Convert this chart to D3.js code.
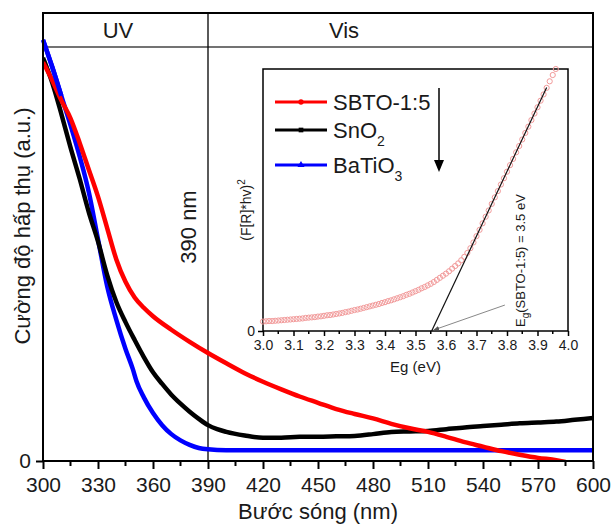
<!DOCTYPE html>
<html>
<head>
<meta charset="utf-8">
<script src="https://cdn.jsdelivr.net/npm/d3@7"></script>
<style>
body { margin: 0; background: #fff; }
svg text { font-family: "Liberation Sans", Arial, sans-serif; fill: #1a1a1a; }
</style>
</head>
<body>
<div id="chart"></div>
<script>
// Absorption spectra, wavelength (nm) vs intensity (a.u., 0..1 of frame height)
const sbtoNm  = [300, 305, 310, 315, 320, 325, 330, 335, 340, 345, 350, 355, 360, 370, 380, 390, 400, 410, 420, 430, 440, 450, 460, 470, 480, 490, 500, 510, 520, 530, 540, 550, 560, 570, 580, 585];
const sbtoAbs = [0.89, 0.85, 0.805, 0.765, 0.71, 0.65, 0.59, 0.52, 0.45, 0.40, 0.365, 0.342, 0.323, 0.293, 0.266, 0.241, 0.218, 0.196, 0.177, 0.160, 0.144, 0.130, 0.116, 0.105, 0.095, 0.083, 0.073, 0.065, 0.054, 0.042, 0.032, 0.022, 0.014, 0.007, 0.002, -0.002];

const sno2Nm  = [300, 305, 310, 315, 320, 325, 330, 335, 340, 345, 350, 355, 360, 365, 370, 375, 380, 385, 390, 395, 400, 410, 420, 430, 440, 450, 460, 470, 480, 490, 500, 510, 520, 530, 540, 550, 560, 570, 580, 590, 600];
const sno2Abs = [0.90, 0.845, 0.775, 0.70, 0.63, 0.555, 0.49, 0.415, 0.355, 0.31, 0.27, 0.232, 0.198, 0.172, 0.148, 0.128, 0.11, 0.094, 0.080, 0.071, 0.065, 0.057, 0.052, 0.052, 0.054, 0.054, 0.055, 0.056, 0.060, 0.065, 0.066, 0.067, 0.071, 0.075, 0.078, 0.081, 0.084, 0.086, 0.088, 0.092, 0.096];

const btoNm  = [300, 305, 310, 315, 320, 325, 330, 335, 340, 345, 349, 351, 355, 360, 365, 370, 375, 380, 385, 390, 400, 450, 500, 550, 600];
const btoAbs = [0.94, 0.88, 0.815, 0.75, 0.68, 0.60, 0.495, 0.39, 0.315, 0.25, 0.205, 0.178, 0.142, 0.107, 0.08, 0.06, 0.046, 0.036, 0.029, 0.026, 0.024, 0.024, 0.024, 0.024, 0.024];

const xTicks = [300, 330, 360, 390, 420, 450, 480, 510, 540, 570, 600];
const xMinor = [315, 345, 375, 405, 435, 465, 495, 525, 555, 585];

// Inset: Tauc plot (F[R]*hv)^2 vs Eg for SBTO-1:5
const insetEg = [3.00, 3.01, 3.02, 3.03, 3.04, 3.05, 3.06, 3.07, 3.08, 3.09,
  3.10, 3.11, 3.12, 3.13, 3.14, 3.15, 3.16, 3.17, 3.18, 3.19,
  3.20, 3.21, 3.22, 3.23, 3.24, 3.25, 3.26, 3.27, 3.28, 3.29,
  3.30, 3.31, 3.32, 3.33, 3.34, 3.35, 3.36, 3.37, 3.38, 3.39,
  3.40, 3.41, 3.42, 3.43, 3.44, 3.45, 3.46, 3.47, 3.48, 3.49,
  3.50, 3.51, 3.52, 3.53, 3.54, 3.55, 3.56, 3.57, 3.58, 3.59,
  3.60, 3.61, 3.62, 3.63, 3.64, 3.65, 3.66, 3.67, 3.68, 3.69,
  3.70, 3.71, 3.72, 3.73, 3.74, 3.75, 3.76, 3.77, 3.78, 3.79,
  3.80, 3.81, 3.82, 3.83, 3.84, 3.85, 3.86, 3.87, 3.88, 3.89,
  3.90, 3.91, 3.92, 3.93, 3.94, 3.95, 3.96];
const insetVal = [0.036, 0.037, 0.038, 0.038, 0.039, 0.040, 0.041, 0.042, 0.043, 0.044,
  0.045, 0.046, 0.047, 0.048, 0.050, 0.051, 0.052, 0.053, 0.055, 0.056,
  0.058, 0.060, 0.061, 0.063, 0.065, 0.067, 0.069, 0.072, 0.074, 0.077,
  0.080, 0.082, 0.085, 0.088, 0.091, 0.094, 0.097, 0.100, 0.103, 0.107,
  0.110, 0.114, 0.117, 0.121, 0.125, 0.129, 0.133, 0.138, 0.142, 0.147,
  0.152, 0.157, 0.163, 0.168, 0.174, 0.180, 0.187, 0.195, 0.203, 0.211,
  0.219, 0.228, 0.238, 0.248, 0.258, 0.270, 0.283, 0.298, 0.316, 0.338,
  0.362, 0.386, 0.411, 0.436, 0.460, 0.485, 0.510, 0.534, 0.559, 0.583,
  0.608, 0.633, 0.657, 0.682, 0.706, 0.731, 0.756, 0.780, 0.805, 0.830,
  0.854, 0.879, 0.903, 0.928, 0.953, 0.977, 1.00];
const tangentEg  = [3.553, 3.93];
const tangentVal = [0, 0.929];
const insetTicks = [3.0, 3.1, 3.2, 3.3, 3.4, 3.5, 3.6, 3.7, 3.8, 3.9, 4.0];
const insetMinor = [3.05, 3.15, 3.25, 3.35, 3.45, 3.55, 3.65, 3.75, 3.85, 3.95];

function zip(a, b) { return a.map((v, i) => [v, b[i]]); }

function renderChart() {
    const W = 614, H = 525;
    const plot = {left: 43, right: 593, top: 13, bottom: 461};

    const svg = d3.select("#chart").append("svg")
        .attr("width", W).attr("height", H);

    const x = d3.scaleLinear().domain([300, 600]).range([plot.left, plot.right]);
    const y = d3.scaleLinear().domain([0, 1]).range([plot.bottom, plot.top]);

    svg.append("defs").append("clipPath").attr("id", "clip")
        .append("rect")
        .attr("x", plot.left).attr("y", plot.top)
        .attr("width", plot.right - plot.left).attr("height", plot.bottom - plot.top);

    // UV / Vis band
    svg.append("line")
        .attr("x1", plot.left).attr("x2", plot.right)
        .attr("y1", 47).attr("y2", 47)
        .attr("stroke", "#444").attr("stroke-width", 1.5);
    svg.append("line")
        .attr("x1", x(390)).attr("x2", x(390))
        .attr("y1", plot.top).attr("y2", plot.bottom)
        .attr("stroke", "#000").attr("stroke-width", 1.3);
    svg.append("text").attr("x", 118).attr("y", 38)
        .attr("text-anchor", "middle").style("font-size", "22px").text("UV");
    svg.append("text").attr("x", 344).attr("y", 38)
        .attr("text-anchor", "middle").style("font-size", "22px").text("Vis");

    svg.append("text")
        .attr("transform", `translate(196,227) rotate(-90)`)
        .attr("text-anchor", "middle").style("font-size", "22px").text("390 nm");

    // curves
    const line = d3.line()
        .x(d => x(d[0]))
        .y(d => y(d[1]))
        .curve(d3.curveMonotoneX);

    const series = [
        {data: zip(btoNm, btoAbs), color: "#0000ff"},
        {data: zip(sno2Nm, sno2Abs), color: "#000000"},
        {data: zip(sbtoNm, sbtoAbs), color: "#ff0000"}
    ];
    const g = svg.append("g").attr("clip-path", "url(#clip)");
    series.forEach(s => {
        g.append("path")
            .datum(s.data)
            .attr("fill", "none")
            .attr("stroke", s.color)
            .attr("stroke-width", 4.5)
            .attr("stroke-linejoin", "round")
            .attr("d", line);
    });
    // blue starts above the band line, draw its first part unclipped
    svg.append("path")
        .datum(zip(btoNm.slice(0, 3), btoAbs.slice(0, 3)))
        .attr("fill", "none").attr("stroke", "#0000ff").attr("stroke-width", 4.5)
        .attr("d", line);

    // frame
    svg.append("rect")
        .attr("x", plot.left).attr("y", plot.top)
        .attr("width", plot.right - plot.left).attr("height", plot.bottom - plot.top)
        .attr("fill", "none").attr("stroke", "#000").attr("stroke-width", 2);

    // x axis
    const xAxis = svg.append("g")
        .attr("transform", `translate(0,${plot.bottom})`)
        .call(d3.axisBottom(x).tickValues(xTicks).tickSize(8).tickPadding(8).tickFormat(d3.format("d")));
    xAxis.select(".domain").remove();
    xAxis.selectAll("line").attr("stroke-width", 2);
    xAxis.selectAll("text").style("font-size", "21px").attr("fill", "#1a1a1a");
    svg.append("g")
        .attr("transform", `translate(0,${plot.bottom})`)
        .selectAll("line").data(xMinor).enter().append("line")
        .attr("x1", d => x(d)).attr("x2", d => x(d))
        .attr("y1", 0).attr("y2", 5)
        .attr("stroke", "#000").attr("stroke-width", 2);

    // y axis: only 0
    const yAxis = svg.append("g")
        .attr("transform", `translate(${plot.left},0)`)
        .call(d3.axisLeft(y).tickValues([0]).tickSize(7).tickPadding(5).tickFormat(d3.format("d")));
    yAxis.select(".domain").remove();
    yAxis.selectAll("line").attr("stroke-width", 2);
    yAxis.selectAll("text").style("font-size", "21px").attr("fill", "#1a1a1a");

    svg.append("text")
        .attr("x", 318).attr("y", 519)
        .attr("text-anchor", "middle").style("font-size", "22px")
        .text("Bước sóng (nm)");
    svg.append("text")
        .attr("transform", `translate(30,226) rotate(-90)`)
        .attr("text-anchor", "middle").style("font-size", "22px")
        .text("Cường độ hấp thụ (a.u.)");

    renderInset(svg);
    renderLegend(svg);
}

function renderInset(svg) {
    const box = {left: 263, right: 568, top: 69, bottom: 331};
    const ix = d3.scaleLinear().domain([3.0, 4.0]).range([box.left, box.right]);
    const iy = d3.scaleLinear().domain([0, 1]).range([box.bottom, box.top]);

    svg.append("rect")
        .attr("x", box.left).attr("y", box.top)
        .attr("width", box.right - box.left).attr("height", box.bottom - box.top)
        .attr("fill", "#fff").attr("stroke", "#000").attr("stroke-width", 1.5);

    // Tauc points
    svg.append("g").selectAll("circle")
        .data(zip(insetEg, insetVal))
        .enter().append("circle")
        .attr("cx", d => ix(d[0]))
        .attr("cy", d => iy(d[1]))
        .attr("r", 2.6)
        .attr("fill", "none")
        .attr("stroke", "#f29a9a")
        .attr("stroke-width", 1);

    // tangent line
    svg.append("line")
        .attr("x1", ix(tangentEg[0])).attr("y1", iy(tangentVal[0]))
        .attr("x2", ix(tangentEg[1])).attr("y2", iy(tangentVal[1]))
        .attr("stroke", "#111").attr("stroke-width", 1.2);

    // annotation arrow
    svg.append("defs").append("marker")
        .attr("id", "greyHead").attr("viewBox", "0 0 10 10")
        .attr("refX", 9).attr("refY", 5)
        .attr("markerWidth", 6).attr("markerHeight", 6)
        .attr("orient", "auto")
        .append("path").attr("d", "M0,1 L10,5 L0,9 z").attr("fill", "#555");
    svg.append("line")
        .attr("x1", ix(3.793)).attr("y1", iy(0.099))
        .attr("x2", ix(3.56)).attr("y2", iy(0.004))
        .attr("stroke", "#888").attr("stroke-width", 1)
        .attr("marker-end", "url(#greyHead)");

    const ann = svg.append("text")
        .attr("transform", `translate(525,327) rotate(-90)`)
        .style("font-size", "13px").attr("fill", "#333");
    ann.append("tspan").text("E");
    ann.append("tspan").attr("dy", 4).style("font-size", "10px").text("g");
    ann.append("tspan").attr("dy", -4).text("(SBTO-1:5) = 3.5 eV");

    // inset axes
    const ax = svg.append("g")
        .attr("transform", `translate(0,${box.bottom})`)
        .call(d3.axisBottom(ix).tickValues(insetTicks).tickSize(5).tickPadding(4).tickFormat(d3.format(".1f")));
    ax.select(".domain").remove();
    ax.selectAll("line").attr("stroke-width", 1.5);
    ax.selectAll("text").style("font-size", "14px").attr("fill", "#1a1a1a");
    svg.append("g")
        .attr("transform", `translate(0,${box.bottom})`)
        .selectAll("line").data(insetMinor).enter().append("line")
        .attr("x1", d => ix(d)).attr("x2", d => ix(d))
        .attr("y1", 0).attr("y2", 3)
        .attr("stroke", "#000").attr("stroke-width", 1.5);

    const ay = svg.append("g")
        .attr("transform", `translate(${box.left},0)`)
        .call(d3.axisLeft(iy).tickValues([0]).tickSize(5).tickPadding(3).tickFormat(d3.format("d")));
    ay.select(".domain").remove();
    ay.selectAll("line").attr("stroke-width", 1.5);
    ay.selectAll("text").style("font-size", "14px").attr("fill", "#1a1a1a");

    svg.append("text")
        .attr("x", (box.left + box.right) / 2).attr("y", 372)
        .attr("text-anchor", "middle").style("font-size", "15px")
        .text("Eg (eV)");

    const yl = svg.append("text")
        .attr("transform", `translate(251,210) rotate(-90)`)
        .attr("text-anchor", "middle").style("font-size", "14px");
    yl.append("tspan").text("(F[R]*hv)");
    yl.append("tspan").attr("dy", -6).style("font-size", "10px").text("2");
}

function renderLegend(svg) {
    const items = [
        {name: "SBTO-1:5", sub: "", color: "#ff0000", shape: d3.symbolCircle, y: 102},
        {name: "SnO", sub: "2", color: "#000000", shape: d3.symbolSquare, y: 130},
        {name: "BaTiO", sub: "3", color: "#0000ff", shape: d3.symbolTriangle, y: 165}
    ];
    const lg = svg.append("g");
    items.forEach(it => {
        lg.append("line")
            .attr("x1", 275).attr("x2", 327)
            .attr("y1", it.y).attr("y2", it.y)
            .attr("stroke", it.color).attr("stroke-width", 3);
        lg.append("path")
            .attr("transform", `translate(301,${it.y})`)
            .attr("d", d3.symbol().type(it.shape).size(22)())
            .attr("fill", it.color);
        const t = lg.append("text")
            .attr("x", 333).attr("y", it.y + 8)
            .style("font-size", "22px");
        t.append("tspan").text(it.name);
        if (it.sub) {
            t.append("tspan").attr("dy", 8).style("font-size", "14px").text(it.sub);
        }
    });

    // downward arrow
    lg.append("line")
        .attr("x1", 439).attr("x2", 439)
        .attr("y1", 88).attr("y2", 162)
        .attr("stroke", "#000").attr("stroke-width", 1.5);
    lg.append("path")
        .attr("d", "M434,160 L444,160 L439,172 Z")
        .attr("fill", "#000");
}

renderChart();
</script>
</body>
</html>
